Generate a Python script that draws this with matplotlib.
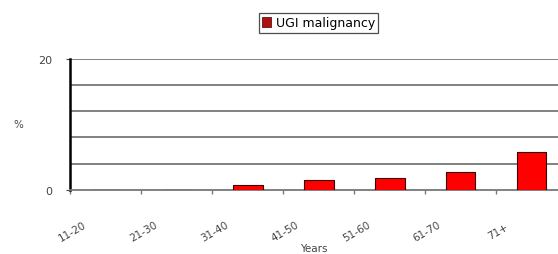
import matplotlib.pyplot as plt
from matplotlib.patches import Patch

plt.rcParams['font.family'] = ['DejaVu Sans']

# 연령대별 UGI malignancy 비율 (%)
ages = ["11-20", "21-30", "31-40", "41-50", "51-60", "61-70", "71+"]
pct = [0, 0, 0.75, 1.45, 1.85, 2.75, 5.8]

fig = plt.figure(figsize=(5.58, 2.55), dpi=100)
ax = fig.add_axes([0.1263, 0.252, 0.8898, 0.5125])

x = [i + 0.5 for i in range(len(ages))]
ax.bar(x, pct, width=0.42, color='#ff0000', edgecolor='#3a0000', linewidth=0.8, zorder=3)

ax.set_xlim(0, 7)
ax.set_ylim(0, 20)

# 4 간격 가로선
for g in [4, 8, 12, 16, 20]:
    ax.axhline(g, color='#777777', lw=1.3, zorder=1)

ax.spines['top'].set_visible(False)
ax.spines['right'].set_visible(False)
ax.spines['left'].set_color('black')
ax.spines['left'].set_linewidth(1.8)
ax.spines['bottom'].set_color('#777777')
ax.spines['bottom'].set_linewidth(1.3)

ax.set_yticks([0, 20])
ax.set_yticklabels(['0', '20'])
ax.tick_params(axis='y', length=3, pad=10, labelsize=8, colors='#444444')
ax.set_xticks(range(len(ages)))
ax.set_xticklabels([])
ax.tick_params(axis='x', length=3, color='#7a7a7a', width=1)

# 기울어진 x축 라벨
for i, lab in enumerate(ages):
    ax.text(i + 0.03, -6.3, lab, rotation=30, ha='center', va='center',
            fontsize=7.5, color='#444444', clip_on=False)

fig.text(18/558, 1 - 125/255, '%', fontsize=7.5, color='#444444', ha='center', va='center')
fig.text(314/558, 1 - 249/255, 'Years', fontsize=7.5, color='#444444', ha='center', va='center')

h = Patch(facecolor='#b01010', edgecolor='#400000', linewidth=0.5)
leg = fig.legend([h], ['UGI malignancy'], loc='center', bbox_to_anchor=(318.5/558, 1 - 24/255),
                 fontsize=9, frameon=True, fancybox=False, handlelength=0.7, handleheight=0.8,
                 handletextpad=0.4, borderpad=0.25, borderaxespad=0)
leg.get_frame().set_edgecolor('#222222')
leg.get_frame().set_linewidth(0.9)

fig.savefig('out.png', dpi=100)
